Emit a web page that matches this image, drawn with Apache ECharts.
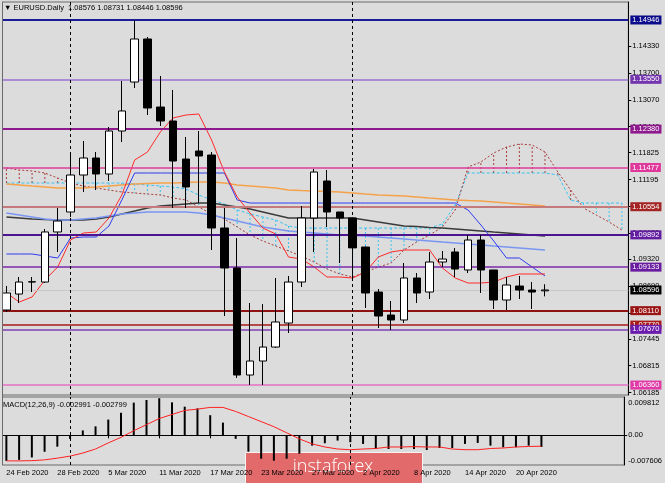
<!DOCTYPE html>
<html><head><meta charset="utf-8">
<script src="https://cdn.jsdelivr.net/npm/echarts@6/dist/echarts.min.js"></script>
<style>html,body{margin:0;padding:0;background:#dcdcdc;}#c{width:665px;height:483px;}</style>
</head><body><div id="c"></div>
<script>
// ---------- data ----------
const dates = ['24 Feb 2020','25 Feb 2020','26 Feb 2020','27 Feb 2020','28 Feb 2020','2 Mar 2020','3 Mar 2020','4 Mar 2020','5 Mar 2020','6 Mar 2020','9 Mar 2020','10 Mar 2020','11 Mar 2020','12 Mar 2020','13 Mar 2020','16 Mar 2020','17 Mar 2020','18 Mar 2020','19 Mar 2020','20 Mar 2020','23 Mar 2020','24 Mar 2020','25 Mar 2020','26 Mar 2020','27 Mar 2020','30 Mar 2020','31 Mar 2020','1 Apr 2020','2 Apr 2020','3 Apr 2020','6 Apr 2020','7 Apr 2020','8 Apr 2020','9 Apr 2020','10 Apr 2020','13 Apr 2020','14 Apr 2020','15 Apr 2020','16 Apr 2020','17 Apr 2020','20 Apr 2020','21 Apr 2020','22 Apr 2020','23 Apr 2020','24 Apr 2020','27 Apr 2020','28 Apr 2020','29 Apr 2020','30 Apr 2020'];
const openP  = [1.08125,1.08501,1.08783,1.08783,1.09960,1.10430,1.11300,1.11700,1.11324,1.12335,1.13487,1.14499,1.12899,1.12570,1.11676,1.11864,1.11770,1.10054,1.09113,1.06596,1.06925,1.07254,1.07819,1.08783,1.10289,1.11159,1.10430,1.10289,1.09606,1.08548,1.08007,1.07890,1.08878,1.08548,1.09254,1.09489,1.09066,1.09771,1.09066,1.08360,1.08689,1.08595,1.08576];
const highP  = [1.08689,1.08901,1.08901,1.10030,1.10524,1.11841,1.12100,1.11841,1.12429,1.13511,1.14946,1.14546,1.13629,1.13299,1.12194,1.12335,1.11841,1.10524,1.09818,1.08290,1.08266,1.08878,1.08925,1.10571,1.11441,1.11418,1.10430,1.10300,1.09620,1.08619,1.08337,1.09230,1.08995,1.09489,1.09512,1.09583,1.09889,1.09889,1.09066,1.08901,1.08925,1.08783,1.08731];
const lowP   = [1.08078,1.08289,1.08548,1.08760,1.09489,1.10312,1.10900,1.10947,1.11159,1.12076,1.13346,1.12711,1.12453,1.10524,1.10524,1.10642,1.09536,1.07984,1.06526,1.06361,1.06360,1.07231,1.07584,1.08666,1.09489,1.10077,1.09230,1.08878,1.08172,1.07701,1.07654,1.07819,1.08290,1.08384,1.09136,1.08901,1.08995,1.08525,1.08149,1.08125,1.08384,1.08149,1.08446];
const closeP = [1.08525,1.08783,1.08790,1.09960,1.10218,1.11300,1.11700,1.11324,1.12335,1.12806,1.14499,1.12876,1.12570,1.11629,1.11018,1.11747,1.10054,1.09113,1.06596,1.06925,1.07254,1.07843,1.08783,1.10289,1.11370,1.10430,1.10289,1.09586,1.08525,1.07984,1.07890,1.08878,1.08525,1.09254,1.09324,1.09089,1.09771,1.09066,1.08360,1.08713,1.08595,1.08548,1.08596];
const tenkan = [1.08525,1.08313,1.08431,1.08830,1.09136,1.09771,1.09936,1.09959,1.10289,1.10830,1.11653,1.11841,1.12311,1.12641,1.12711,1.12735,1.12123,1.11371,1.10783,1.10406,1.10053,1.09912,1.09371,1.09324,1.09136,1.08901,1.08901,1.08877,1.09019,1.09371,1.09489,1.09536,1.09536,1.09536,1.09113,1.08877,1.08760,1.08760,1.08783,1.08901,1.08972,1.08972,1.08972];
const kijun  = [1.09442,1.09442,1.09442,1.09395,1.09348,1.09818,1.09842,1.09842,1.10100,1.10712,1.11347,1.11347,1.11347,1.11347,1.11347,1.11347,1.11347,1.11347,1.10712,1.10641,1.10641,1.10641,1.10641,1.10641,1.10641,1.10641,1.10641,1.10641,1.10641,1.10641,1.10641,1.10641,1.10641,1.10641,1.10641,1.10641,1.10477,1.10124,1.09748,1.09348,1.09348,1.09136,1.08925];
const spanA  = [1.11112,1.11112,1.11112,1.11112,1.11112,1.11112,1.11112,1.11112,1.11112,1.11112,1.11088,1.11065,1.11041,1.11018,1.10971,1.10830,1.10712,1.10618,1.10477,1.10383,1.10312,1.10242,1.10100,1.10053,1.10053,1.10053,1.10053,1.10053,1.10053,1.10053,1.10053,1.10053,1.10053,1.10053,1.10148,1.10594,1.11347,1.11347,1.11347,1.11347,1.11347,1.11347,1.11347,1.11300,1.10712,1.10641,1.10641,1.10641,1.10641];
const spanB  = [1.11465,1.11418,1.11394,1.11347,1.11229,1.11112,1.11041,1.10994,1.10947,1.10900,1.10877,1.10853,1.10830,1.10759,1.10712,1.10547,1.10383,1.10265,1.10077,1.09889,1.09748,1.09630,1.09513,1.09395,1.09254,1.09089,1.08972,1.08901,1.09019,1.09136,1.09230,1.09536,1.09724,1.09889,1.10077,1.10477,1.11488,1.11606,1.11817,1.11959,1.12029,1.12006,1.11841,1.11371,1.10947,1.10524,1.10359,1.10195,1.10006];
const maOrange = [1.11088,1.11065,1.11041,1.11018,1.10994,1.10994,1.10994,1.11018,1.11041,1.11065,1.11088,1.11100,1.11112,1.11112,1.11124,1.11135,1.11135,1.11112,1.11065,1.11041,1.11018,1.10994,1.10947,1.10935,1.10924,1.10912,1.10900,1.10877,1.10853,1.10830,1.10818,1.10806,1.10783,1.10759,1.10736,1.10712,1.10700,1.10689,1.10665,1.10641,1.10618,1.10594,1.10571];
const maDark   = [1.10312,1.10289,1.10265,1.10253,1.10242,1.10242,1.10242,1.10265,1.10312,1.10383,1.10453,1.10524,1.10571,1.10594,1.10618,1.10641,1.10641,1.10594,1.10547,1.10500,1.10430,1.10359,1.10289,1.10289,1.10289,1.10289,1.10289,1.10289,1.10242,1.10195,1.10148,1.10100,1.10089,1.10065,1.10053,1.10030,1.10006,1.09983,1.09959,1.09936,1.09912,1.09889,1.09865];
const maBlue   = [1.10406,1.10359,1.10312,1.10265,1.10242,1.10242,1.10265,1.10289,1.10336,1.10383,1.10406,1.10430,1.10430,1.10430,1.10430,1.10406,1.10359,1.10289,1.10218,1.10148,1.10077,1.10030,1.09983,1.09959,1.09936,1.09912,1.09889,1.09877,1.09865,1.09842,1.09818,1.09795,1.09771,1.09748,1.09724,1.09701,1.09677,1.09654,1.09630,1.09607,1.09583,1.09560,1.09536];
const macdMain   = [-0.00655,-0.00629,-0.00567,-0.00421,-0.00291,-0.00091,0.00125,0.00229,0.00403,0.00577,0.00837,0.00905,0.00950,0.00845,0.00733,0.00689,0.00515,0.00325,-0.00091,-0.00420,-0.00600,-0.00650,-0.00600,-0.00470,-0.00265,-0.00203,-0.00135,-0.00177,-0.00221,-0.00351,-0.00351,-0.00351,-0.00351,-0.00377,-0.00325,-0.00325,-0.00221,-0.00195,-0.00265,-0.00307,-0.00307,-0.00265,-0.002991];
const macdSignal = [-0.00655,-0.00655,-0.00650,-0.00629,-0.00585,-0.00533,-0.00455,-0.00351,-0.00195,-0.00052,0.00117,0.00273,0.00429,0.00533,0.00637,0.00671,0.00715,0.00715,0.00611,0.00481,0.00351,0.00221,0.00065,-0.00091,-0.00221,-0.00299,-0.00351,-0.00369,-0.00351,-0.00338,-0.00299,-0.00299,-0.00291,-0.00299,-0.00299,-0.00351,-0.00369,-0.00369,-0.00338,-0.00325,-0.00299,-0.00286,-0.002799];
const priceTicks = [1.14330,1.13700,1.13070,1.12440,1.11825,1.11195,1.10565,1.09935,1.09320,1.08690,1.08060,1.07445,1.06815,1.06185];
const macdTicks = [0.009812,0,-0.007606];
const levelValues = [1.14946,1.13550,1.12380,1.11477,1.10554,1.09892,1.09133,1.08596,1.08110,1.07770,1.07670,1.06360];
const monthStarts = ['2 Mar 2020','1 Apr 2020'];
const priceRange = [1.06126,1.15369];

// ---------- styles ----------
const levelLine  = ['#1c1c98','#9a70d4','#8e1a8e','#e03c9c','#c47a7a','#4c1490','#7b2aab','#c8c8c8','#8e1212','#a81a1a','#7e40b8','#e38acb'];
const levelWidth = [2,1.5,2,1.5,2,2,1.5,1,2,1.5,1.5,2];
const levelBg    = ['#0c0c8a','#7436ae','#8e1a8e','#e0379b','#a42424','#621ca0','#6a1ca0','#000000','#9a1414','#a81a1a','#6c1cac','#e03aa6'];
const FONT = "'Liberation Sans',Arial,sans-serif";
const FS = 7.5;
const CYAN = '#38c4f2', BROWN = '#a83a3a';

const chart = echarts.init(document.getElementById('c'), null, {renderer:'canvas'});
const nCat = dates.length;
const barStep = 12.9;
const gridLeft = -3.75, gridW = nCat*barStep;

const candleData = openP.map((o,i)=>[o, closeP[i], lowP[i], highP[i]]);
const hatchData = spanA.map((a,i)=>[i, a, spanB[i]]);
const f5 = v => v.toFixed(5);

const levelMarks = levelValues.map((v,i)=>({
  yAxis: v,
  lineStyle:{color:levelLine[i], width:levelWidth[i], type:'solid'},
  label:{show:true, position:'end', distance:2, formatter: f5(v), color:'#fff',
         backgroundColor:levelBg[i], padding:[1,2,0,2], fontSize:FS, fontFamily:FONT}
}));
const monthMarks = monthStarts.map(d=>({xAxis:d, lineStyle:{color:'#000', width:1, type:[3,3]}, label:{show:false}}));

const lastI = closeP.length-1;
const header = '▼ EURUSD.Daily  ' + [openP[lastI],highP[lastI],lowP[lastI],closeP[lastI]].map(f5).join(' ');
const macdHeader = 'MACD(12,26,9) ' + macdMain[lastI].toFixed(6) + ' ' + macdSignal[lastI].toFixed(6);

const labelInterval = (idx) => idx % 4 === 0 && idx <= 40;

const option = {
  animation:false,
  backgroundColor:'#dcdcdc',
  textStyle:{fontFamily:FONT},
  title:[
    {text:header, left:4, top:4, padding:0, textStyle:{fontSize:FS, fontWeight:'normal', color:'#000', fontFamily:FONT}},
    {text:macdHeader, left:3, top:401, padding:0, textStyle:{fontSize:FS, fontWeight:'normal', color:'#000', fontFamily:FONT}}
  ],
  grid:[
    {left:gridLeft, top:2, width:gridW, height:393, show:true, borderColor:'#6a6a6a', borderWidth:1, backgroundColor:'transparent'},
    {left:gridLeft, top:397, width:gridW, height:68, show:true, borderColor:'#6a6a6a', borderWidth:1, backgroundColor:'transparent'}
  ],
  xAxis:[
    {type:'category', gridIndex:0, data:dates, boundaryGap:true, axisLine:{show:false}, axisTick:{show:false}, axisLabel:{show:false}, splitLine:{show:false}},
    {type:'category', gridIndex:1, data:dates, boundaryGap:true,
     axisLine:{show:true, lineStyle:{color:'#000', width:1}},
     axisTick:{show:true, interval:labelInterval, alignWithLabel:true, length:3, lineStyle:{color:'#000'}},
     axisLabel:{show:true, interval:labelInterval, align:'left', margin:4, fontSize:FS, color:'#000', fontFamily:FONT},
     splitLine:{show:false}}
  ],
  yAxis:[
    {type:'value', gridIndex:0, position:'right', min:priceRange[0], max:priceRange[1], scale:true,
     axisLine:{show:true, lineStyle:{color:'#000', width:1}},
     axisTick:{show:true, customValues:priceTicks, length:3, lineStyle:{color:'#000'}},
     axisLabel:{show:true, customValues:priceTicks, formatter:v=>f5(v), fontSize:FS, color:'#000', margin:4, fontFamily:FONT},
     splitLine:{show:false}},
    {type:'value', gridIndex:1, position:'right', min:macdTicks[2], max:macdTicks[0],
     axisLine:{show:true, lineStyle:{color:'#000', width:1}},
     axisTick:{show:true, customValues:[0], length:3, lineStyle:{color:'#000'}},
     axisLabel:{show:true, customValues:macdTicks, margin:4, fontSize:FS, color:'#000', fontFamily:FONT,
       formatter:v=> v>0 ? '{t|'+v.toFixed(6)+'}' : (v<0 ? '{b|'+v.toFixed(6)+'}' : '{m|0.00}'),
       rich:{t:{fontSize:FS, fontFamily:FONT, color:'#000', padding:[12,0,0,0]},
             b:{fontSize:FS, fontFamily:FONT, color:'#000', padding:[0,0,8,0]},
             m:{fontSize:FS, fontFamily:FONT, color:'#000'}}},
     splitLine:{show:false}}
  ],
  series:[
    {type:'line', name:'levels', xAxisIndex:0, yAxisIndex:0, data:closeP, z:1, silent:true, symbol:'none',
     lineStyle:{opacity:0}, tooltip:{show:false},
     markLine:{symbol:'none', silent:true, animation:false, precision:6, data: levelMarks.concat(monthMarks)}},
    {type:'custom', name:'cloud', xAxisIndex:0, yAxisIndex:0, z:2, silent:true, data:hatchData,
     encode:{x:0, y:[1,2]},
     renderItem:(params, api)=>{
       const i = api.value(0), a = api.value(1), b = api.value(2);
       const p1 = api.coord([i,a]), p2 = api.coord([i,b]);
       return {type:'line', shape:{x1:p1[0], y1:p1[1], x2:p2[0], y2:p2[1]},
               style:{stroke: a>=b ? CYAN : BROWN, lineWidth:1, lineDash:[2,2]}};
     }},
    {type:'line', name:'SpanA', data:spanA, symbol:'none', z:3, lineStyle:{color:CYAN, width:1, type:[3,2]}},
    {type:'line', name:'SpanB', data:spanB, symbol:'none', z:3, lineStyle:{color:BROWN, width:1, type:[2,2]}},
    {type:'line', name:'MA orange', data:maOrange, symbol:'none', z:3, lineStyle:{color:'#f5a24a', width:1.5}},
    {type:'line', name:'MA dark', data:maDark, symbol:'none', z:3, lineStyle:{color:'#3a3a3a', width:1.5}},
    {type:'line', name:'MA blue', data:maBlue, symbol:'none', z:3, lineStyle:{color:'#7a96f2', width:1.5}},
    {type:'line', name:'Kijun', data:kijun, symbol:'none', z:4, lineStyle:{color:'#2f3cf0', width:1}},
    {type:'line', name:'Tenkan', data:tenkan, symbol:'none', z:4, lineStyle:{color:'#ff2a2a', width:1}},
    {type:'candlestick', name:'EURUSD', data:candleData, barWidth:8, z:6,
     itemStyle:{color:'#ffffff', color0:'#000000', borderColor:'#000000', borderColor0:'#000000', borderWidth:1}},
    {type:'bar', name:'MACD', xAxisIndex:1, yAxisIndex:1, data:macdMain, barWidth:2, itemStyle:{color:'#000'}, z:3,
     markLine:{symbol:'none', silent:true, animation:false, data: monthMarks}},
    {type:'line', name:'Signal', xAxisIndex:1, yAxisIndex:1, data:macdSignal, symbol:'none', z:4, lineStyle:{color:'#ff2020', width:1}}
  ],
  graphic:[
    {type:'rect', left:0, top:0, shape:{width:2, height:483}, style:{fill:'#dcdcdc'}, z:50, silent:true},
    {type:'line', shape:{x1:2.5, y1:2, x2:2.5, y2:465}, style:{stroke:'#6a6a6a', lineWidth:1}, z:51, silent:true},
    {type:'group', z:100, children:[
      {type:'rect', shape:{x:245.5, y:452.5, width:177, height:40}, style:{fill:'#e26a6a', stroke:'#f4f4f4', lineWidth:1}},
      {type:'text', x:333, y:467, style:{text:'instaforex', fill:'#ffffff', font:"300 18px 'Open Sans', sans-serif", align:'center', verticalAlign:'middle'}}
    ]}
  ]
};
chart.setOption(option);
</script></body></html>
